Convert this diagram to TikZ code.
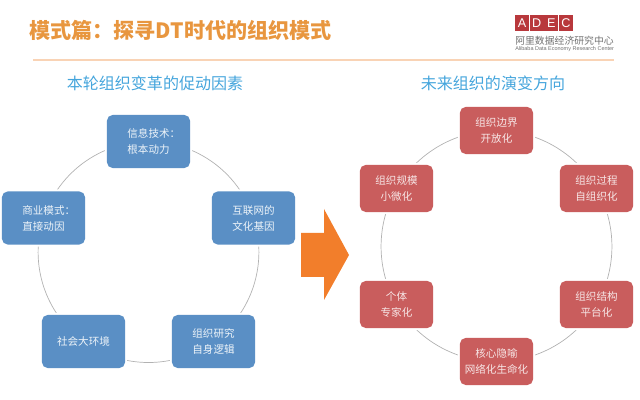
\documentclass[tikz,border=0pt]{standalone}
\usepackage{fontspec}
\usetikzlibrary{backgrounds,positioning}
\setmainfont{Noto Sans CJK SC}
\setsansfont{Liberation Sans}
\definecolor{titleorange}{HTML}{E8963F}
\definecolor{ruleorange}{HTML}{F9D3B5}
\definecolor{headblue}{HTML}{45A5DC}
\definecolor{boxblue}{HTML}{5A8FC5}
\definecolor{boxred}{HTML}{C95D5D}
\definecolor{arroworange}{HTML}{F27E2B}
\definecolor{logored}{HTML}{B8383C}
\definecolor{logogray}{HTML}{707070}
\tikzset{
  bluebox/.style={fill=boxblue,preaction={draw=white,line width=3pt},rounded corners=4pt,
    minimum width=2.075cm,minimum height=1.325cm,inner sep=0pt,align=center,text=white!90!boxblue,
    font=\fontsize{7.5}{11.4}\selectfont},
  redbox/.style={fill=boxred,preaction={draw=white,line width=3pt},rounded corners=4pt,
    minimum width=1.825cm,minimum height=1.175cm,inner sep=0pt,align=center,text=white!85!boxred,
    font=\fontsize{7.5}{11.4}\selectfont},
  headtext/.style={text=headblue,font=\fontsize{11.4}{14}\selectfont},
  logocell/.style={fill=logored,text=white,minimum width=0.355cm,minimum height=0.39cm,inner sep=0pt,outer sep=0pt,
    font=\sffamily\fontsize{9}{10}\selectfont},
  ringline/.style={draw=black!30,line width=0.5pt}
}

\begin{document}
\begin{tikzpicture}[x=0.025cm,y=-0.025cm]
  \useasboundingbox (0,0) rectangle (640,400);

  % Title and rule
  \node[anchor=west,inner sep=0pt,text=titleorange,font=\fontsize{15}{18}\bfseries\selectfont] (title) at (29,30) {模式篇：探寻DT时代的组织模式};
  \coordinate (ruleleft) at (33,60);
  \coordinate (ruleright) at (614,60);
  \draw[ruleorange,line width=1pt] (ruleleft) -- (ruleright);

  % Logo
  \node[logocell] (logoa) at (522.1,23.3) {A};
  \node[logocell,right=0.3pt of logoa] (logod) {D};
  \node[logocell,right=0.3pt of logod] (logoe) {E};
  \node[logocell,right=0.3pt of logoe] (logoc) {C};
  \node[anchor=west,inner sep=0pt,text=logogray,font=\fontsize{7}{8}\selectfont] (logocn) at (515,40.5) {阿里数据经济研究中心};
  \node[anchor=west,inner sep=0pt,text=logogray,font=\sffamily\fontsize{3.9}{4}\selectfont] (logoen) at (515,49.5) {Alibaba Data Economy Research Center};

  % Column headings
  \node[headtext] (headleft) at (155,83) {本轮组织变革的促动因素};
  \node[headtext] (headright) at (493,83) {未来组织的演变方向};

  % Left ring
  \node[bluebox] (info) at (148.5,141.5) {信息技术\rlap{：}\\根本动力};
  \node[bluebox] (web) at (253.5,218) {互联网的\\文化基因};
  \node[bluebox] (study) at (213.5,341.5) {组织研究\\自身逻辑};
  \node[bluebox] (society) at (83.5,341.5) {社会大环境};
  \node[bluebox] (biz) at (43.5,218) {商业模式\rlap{：}\\直接动因};

  % Right ring
  \node[redbox] (border) at (496.5,130.5) {组织边界\\开放化};
  \node[redbox] (process) at (596.5,188.5) {组织过程\\自组织化};
  \node[redbox] (struct) at (596.5,304.5) {组织结构\\平台化};
  \node[redbox] (core) at (496.5,361.5) {核心隐喻\\网络化生命化};
  \node[redbox] (person) at (396.5,304.5) {个体\\专家化};
  \node[redbox] (scale) at (396.5,188.5) {组织规模\\小微化};

  % Ring arcs behind the boxes
  \begin{scope}[on background layer]
    \draw[ringline] (info.center) to[bend left=36,looseness=0.94] (web.center);
    \draw[ringline] (web.center) to[bend left=36,looseness=0.94] (study.center);
    \draw[ringline] (study.center) to[bend left=36,looseness=0.94] (society.center);
    \draw[ringline] (society.center) to[bend left=36,looseness=0.94] (biz.center);
    \draw[ringline] (biz.center) to[bend left=36,looseness=0.94] (info.center);
    \draw[ringline] (border.center) to[bend left=30,looseness=0.91] (process.center);
    \draw[ringline] (process.center) to[bend left=30,looseness=0.91] (struct.center);
    \draw[ringline] (struct.center) to[bend left=30,looseness=0.91] (core.center);
    \draw[ringline] (core.center) to[bend left=30,looseness=0.91] (person.center);
    \draw[ringline] (person.center) to[bend left=30,looseness=0.91] (scale.center);
    \draw[ringline] (scale.center) to[bend left=30,looseness=0.91] (border.center);
  \end{scope}

  % Big arrow between the rings
  \fill[arroworange] (301,233) -- (324,233) -- (324,209) -- (349,255) -- (324,300) -- (324,277) -- (301,277) -- cycle;
\end{tikzpicture}
\end{document}
